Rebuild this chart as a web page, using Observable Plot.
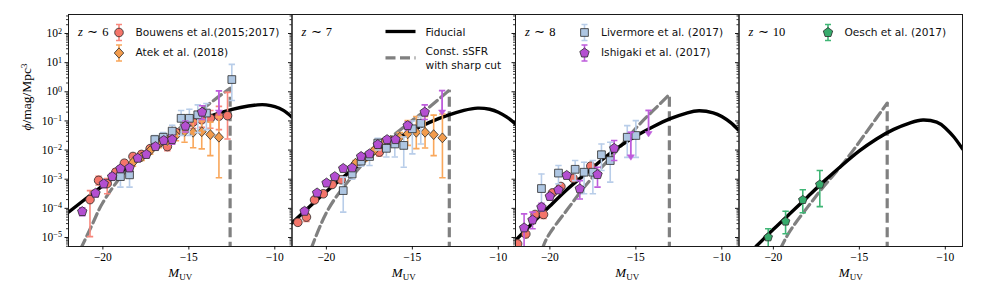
<!DOCTYPE html>
<html><head><meta charset="utf-8">
<script src="https://cdn.jsdelivr.net/npm/d3@7"></script>
<script src="https://cdn.jsdelivr.net/npm/@observablehq/plot@0.6"></script>
<style>
body{margin:0;background:#fff;}
#chart{width:981px;height:282px;}
</style></head><body><div id="chart"></div>
<script>
// ---------- data (log10 phi values) ----------
const panels = [6, 7, 8, 10];
const panelLabels = ["z ∼ 6", "z ∼ 7", "z ∼ 8", "z ∼ 10"];
const xTicks = [-20, -15, -10];
const yExponents = [-5, -4, -3, -2, -1, 0, 1, 2];

// [M_UV, log phi, log lower, log upper]
const bouwensZ6 = [
  [-20.75,-3.70,-4.97,-3.39],[-20.25,-3.04,-3.20,-2.90],[-19.75,-3.15,-3.50,-2.98],
  [-19.25,-2.76,-2.90,-2.64],[-18.75,-2.45,-2.57,-2.35],[-18.25,-2.22,-2.33,-2.12],
  [-17.75,-2.15,-2.28,-2.04],[-17.25,-1.95,-2.06,-1.85],[-16.75,-1.77,-1.90,-1.66],
  [-16.25,-1.88,-2.02,-1.76],[-15.75,-1.40,-1.55,-1.28],[-15.25,-1.13,-1.30,-0.98],
  [-14.75,-1.04,-1.25,-0.87],[-14.25,-0.96,-1.22,-0.75],[-13.75,-0.91,-1.25,-0.64],
  [-13.25,-0.84,-1.30,-0.50],[-12.75,-0.82,-1.62,-0.02]
];
const bouwensZ7 = [
  [-21.66,-4.48,-4.58,-4.38],[-21.16,-4.30,-4.45,-4.18],[-20.69,-3.71,-3.80,-3.62],
  [-20.18,-3.50,-3.58,-3.42],[-19.66,-3.18,-3.25,-3.11],[-19.14,-3.02,-3.10,-2.95],
  [-17.92,-2.27,-2.35,-2.20],[-16.92,-2.07,-2.20,-1.95]
];
const bouwensZ8 = [
  [-21.88,-5.22,-5.35,-5.10],[-21.40,-4.88,-5.00,-4.78],[-20.86,-4.21,-4.30,-4.12],
  [-20.37,-4.21,-4.35,-4.10],[-19.85,-3.47,-3.55,-3.40],[-19.36,-3.25,-3.33,-3.18],
  [-18.65,-2.97,-3.05,-2.90],[-17.62,-2.55,-2.65,-2.46]
];
const atekZ6 = [
  [-18.25,-2.42,-2.55,-2.30],[-17.75,-2.24,-2.36,-2.13],[-17.25,-2.02,-2.14,-1.91],
  [-16.75,-1.79,-1.92,-1.68],[-16.25,-1.67,-1.82,-1.55],[-15.75,-1.50,-1.68,-1.36],
  [-15.25,-1.36,-1.73,-1.10],[-14.75,-1.39,-1.92,-1.00],[-14.25,-1.37,-1.96,-1.00],
  [-13.75,-1.47,-2.19,-1.04],[-13.25,-1.56,-2.95,-0.87]
];
const atekZ7 = [
  [-18.31,-2.45,-2.55,-2.36],[-17.79,-2.27,-2.37,-2.18],[-17.24,-2.02,-2.12,-1.93],
  [-16.76,-1.76,-1.86,-1.67],[-16.27,-1.67,-1.80,-1.55],[-15.73,-1.56,-1.75,-1.40],
  [-15.27,-1.44,-1.84,-0.99],[-14.77,-1.39,-1.95,-0.85],[-14.26,-1.39,-1.93,-0.85],
  [-13.76,-1.47,-2.19,-0.80],[-13.25,-1.58,-2.95,-0.76]
];
const livermoreZ6 = [
  [-18.98,-2.91,-3.27,-2.61],[-18.45,-2.85,-3.27,-2.72],[-16.98,-1.64,-1.85,-1.50],
  [-16.49,-1.56,-1.75,-1.40],[-15.97,-1.35,-1.62,-1.15],[-15.45,-0.91,-1.50,-0.64],
  [-14.97,-0.91,-1.50,-0.60],[-14.48,-0.79,-1.40,-0.45],[-13.98,-0.73,-1.30,-0.40],
  [-12.50,0.42,-0.30,0.94]
];
const livermoreZ7 = [
  [-19.02,-3.39,-4.13,-2.93],[-18.50,-2.82,-3.00,-2.65],[-17.98,-2.38,-2.55,-2.25],
  [-17.49,-2.22,-2.53,-2.05],[-17.01,-1.76,-2.00,-1.60],[-16.51,-1.94,-2.24,-1.75],
  [-16.02,-1.79,-2.24,-1.60],[-15.50,-1.84,-2.59,-1.55],[-15.00,-1.27,-2.13,-1.00],
  [-14.51,-1.08,-1.79,-0.85]
];
const livermoreZ8 = [
  [-20.49,-3.32,-3.85,-2.82],[-19.50,-2.79,-3.16,-2.53],[-18.53,-2.66,-3.05,-2.36],
  [-18.01,-2.76,-3.50,-2.42],[-17.50,-2.76,-3.50,-2.36],[-17.00,-2.16,-2.70,-1.79],
  [-16.49,-2.36,-3.10,-1.73],[-15.50,-1.56,-2.25,-1.16],[-15.00,-1.50,-2.25,-0.99]
];
const ishigakiZ6 = [
  [-21.20,-4.11,-4.25,-3.98],[-20.43,-3.48,-3.60,-3.38],[-19.95,-3.16,-3.28,-3.05],
  [-19.46,-2.91,-3.02,-2.80],[-18.98,-2.64,-2.75,-2.54],[-18.45,-2.61,-2.73,-2.50],
  [-17.97,-2.28,-2.38,-2.18],[-17.47,-2.15,-2.25,-2.05],[-16.94,-1.88,-1.98,-1.78],
  [-16.46,-1.67,-1.80,-1.56],[-15.97,-1.64,-1.80,-1.50],[-15.20,-1.18,-1.38,-1.00],
  [-14.23,-0.70,-0.95,-0.48]
];
const ishigakiZ7 = [
  [-21.27,-4.10,-4.20,-4.00],[-20.54,-3.47,-3.55,-3.40],[-19.99,-3.13,-3.20,-3.06],
  [-19.51,-2.91,-2.98,-2.84],[-19.02,-2.63,-2.70,-2.56],[-18.50,-2.61,-2.69,-2.54],
  [-17.98,-2.22,-2.29,-2.15],[-17.49,-2.13,-2.20,-2.06],[-17.01,-1.81,-1.88,-1.74],
  [-16.47,-1.64,-1.72,-1.56],[-15.98,-1.64,-1.74,-1.55],[-15.27,-1.16,-1.30,-1.03],
  [-14.28,-0.70,-0.95,-0.45]
];
const ishigakiZ8 = [
  [-21.50,-4.67,-5.50,-4.19],[-21.01,-4.40,-4.70,-4.13],[-20.49,-3.96,-4.10,-3.83],
  [-20.00,-3.59,-3.70,-3.49],[-19.50,-3.37,-3.46,-3.28],[-19.02,-2.87,-2.95,-2.79],
  [-18.26,-3.33,-3.68,-3.05],[-17.23,-2.84,-3.27,-2.59],[-16.26,-1.94,-2.36,-1.67]
];
// upper limits: [z, M_UV, log top, log arrow tip]
const ishigakiLimits = [
  [6,-13.25,0.03,-0.76],[7,-13.27,0.04,-0.76],[8,-15.29,-1.39,-2.30],[8,-14.26,-0.64,-1.50]
];
const oeschZ10 = [
  [-20.30,-4.99,-5.50,-4.70],[-19.29,-4.45,-4.87,-4.10],
  [-18.29,-3.71,-4.15,-3.36],[-17.30,-3.18,-3.94,-2.70]
];

// model curves: [M_UV, log phi]
const fiducialZ6 = [[-22,-4.13],[-21,-3.67],[-20,-3.22],[-19,-2.77],[-18,-2.33],[-17,-1.91],[-16,-1.52],[-15,-1.16],[-14,-0.89],[-13,-0.69],[-12,-0.54],[-11,-0.45],[-10.5,-0.45],[-10,-0.51],[-9.5,-0.64],[-9,-0.87]];
const fiducialZ7 = [[-22,-4.50],[-21,-3.95],[-20,-3.42],[-19,-2.92],[-18,-2.45],[-17,-2.02],[-16,-1.65],[-15,-1.33],[-14,-1.05],[-13,-0.82],[-12,-0.64],[-11.2,-0.56],[-10.5,-0.60],[-10,-0.70],[-9.5,-0.87],[-9,-1.10]];
const fiducialZ8 = [[-22,-5.10],[-21,-4.50],[-20,-3.92],[-19,-3.35],[-18,-2.85],[-17,-2.35],[-16,-1.90],[-15,-1.52],[-14,-1.20],[-13,-0.92],[-12,-0.72],[-11.3,-0.65],[-10.5,-0.72],[-10,-0.85],[-9.5,-1.05],[-9,-1.33]];
const fiducialZ10 = [[-21,-5.30],[-20,-4.72],[-19,-4.16],[-18,-3.60],[-17,-3.04],[-16,-2.52],[-15,-2.03],[-14,-1.62],[-13,-1.29],[-12,-1.06],[-11.3,-0.97],[-10.5,-1.04],[-10,-1.24],[-9.5,-1.55],[-9,-1.96]];
const ssfrZ6 = [[-21.3,-5.40],[-20.5,-4.40],[-20,-3.80],[-19,-2.95],[-18,-2.35],[-17,-1.87],[-16,-1.45],[-15,-1.00],[-14,-0.50],[-13,-0.05],[-12.6,0.12]];
const ssfrZ7 = [[-20.9,-5.40],[-20,-4.15],[-19,-3.27],[-18,-2.55],[-17,-1.95],[-16,-1.45],[-15,-0.98],[-14,-0.52],[-13,-0.02],[-12.85,0.05]];
const ssfrZ8 = [[-20.45,-5.40],[-20,-4.85],[-19,-4.05],[-18,-3.27],[-17,-2.60],[-16,-1.95],[-15,-1.25],[-14,-0.65],[-13.05,-0.09]];
const ssfrZ10 = [[-19.6,-5.40],[-19,-4.75],[-18,-3.95],[-17,-3.20],[-16,-2.50],[-15,-1.72],[-14,-0.90],[-13.38,-0.39]];
// sharp cut: [z, M_cut, log top]
const ssfrCut = [[6,-12.6,0.12],[7,-12.85,0.05],[8,-13.05,-0.09],[10,-13.38,-0.39]];

// ---------- build tables ----------
const pts = (z, arr) => arr.map(([M, v, lo, hi]) => ({z, M, phi: 10 ** v, lo: 10 ** lo, hi: 10 ** hi}));
const crv = (z, arr) => arr.map(([M, v]) => ({z, M, phi: 10 ** v}));
const bouwens = [...pts(6, bouwensZ6), ...pts(7, bouwensZ7), ...pts(8, bouwensZ8)];
const atek = [...pts(6, atekZ6), ...pts(7, atekZ7)];
const livermore = [...pts(6, livermoreZ6), ...pts(7, livermoreZ7), ...pts(8, livermoreZ8)];
const ishigaki = [...pts(6, ishigakiZ6), ...pts(7, ishigakiZ7), ...pts(8, ishigakiZ8)];
const oesch = pts(10, oeschZ10);
const limits = ishigakiLimits.map(([z, M, t, b]) => ({z, M, top: 10 ** t, tip: 10 ** b}));
const fiducial = [...crv(6, fiducialZ6), ...crv(7, fiducialZ7), ...crv(8, fiducialZ8), ...crv(10, fiducialZ10)];
const ssfr = [...crv(6, ssfrZ6), ...crv(7, ssfrZ7), ...crv(8, ssfrZ8), ...crv(10, ssfrZ10)];
const cuts = ssfrCut.map(([z, M, t]) => ({z, M, top: 10 ** t}));
const panelInfo = panels.map((z, i) => ({z, label: panelLabels[i]}));

const yDomain = [10 ** -5.309, 10 ** 2.652];
const majorY = yExponents.map(e => 10 ** e);
const minorY = [];
for (let e = -6; e <= 2; e++) for (let k = 2; k <= 9; k++) {
  const v = k * 10 ** e;
  if (v >= yDomain[0] && v <= yDomain[1]) minorY.push(v);
}

// ---------- symbols ----------
const sym = fn => ({draw(ctx, size) { fn(ctx, Math.sqrt(size / Math.PI)); }});
const circle = sym((c, r) => { c.moveTo(r, 0); c.arc(0, 0, r, 0, 2 * Math.PI); });
const square = sym((c, r) => { const s = r * 0.9; c.moveTo(-s, -s); c.lineTo(s, -s); c.lineTo(s, s); c.lineTo(-s, s); c.closePath(); });
const diamond = sym((c, r) => { const R = r * 1.2; c.moveTo(0, -R); c.lineTo(R * 0.92, 0); c.lineTo(0, R); c.lineTo(-R * 0.92, 0); c.closePath(); });
const pentagon = sym((c, r) => { const R = r * 1.15; for (let i = 0; i < 5; i++) { const a = -Math.PI / 2 + i * 2 * Math.PI / 5; i ? c.lineTo(R * Math.cos(a), R * Math.sin(a)) : c.moveTo(R * Math.cos(a), R * Math.sin(a)); } c.closePath(); });
const cap = sym((c, r) => { c.moveTo(-r, 0); c.lineTo(r, 0); });
const caret = sym((c, r) => { c.moveTo(-r, -r * 1.1); c.lineTo(r, -r * 1.1); c.lineTo(0, r * 0.4); c.closePath(); });
const vbar = sym((c, r) => { c.moveTo(0, -r); c.lineTo(0, r); c.moveTo(-3, -r); c.lineTo(3, -r); c.moveTo(-3, r); c.lineTo(3, r); });
const hline = sym((c, r) => { c.moveTo(-15, 0); c.lineTo(15, 0); });

const styles = {
  bouwens: {fill: "#f4756a", err: "#f8877c", symbol: circle},
  atek: {fill: "#f39c4d", err: "#f9a75b", symbol: diamond},
  livermore: {fill: "#aec6e2", err: "#b8cde9", symbol: square},
  ishigaki: {fill: "#b44fd1", err: "#be5cdc", symbol: pentagon},
  oesch: {fill: "#37ab6c", err: "#40b676", symbol: pentagon}
};

function series(data, st, r = 4.3) {
  return [
    Plot.ruleX(data, {fx: "z", x: "M", y1: "lo", y2: "hi", stroke: st.err, strokeWidth: 1.6, clip: true}),
    Plot.dot(data, {fx: "z", x: "M", y: "lo", symbol: cap, r: 3.2, stroke: st.err, strokeWidth: 1.6, fill: "none", clip: true}),
    Plot.dot(data, {fx: "z", x: "M", y: "hi", symbol: cap, r: 3.2, stroke: st.err, strokeWidth: 1.6, fill: "none", clip: true}),
    Plot.dot(data, {fx: "z", x: "M", y: "phi", symbol: st.symbol, r, fill: st.fill, stroke: "#2b2b2b", strokeWidth: 0.8, clip: true})
  ];
}

const legendItems = [
  {z: 6, dx: 50.5, dy: 18, key: "bouwens", label: "Bouwens et al.(2015;2017)"},
  {z: 6, dx: 50.5, dy: 38.5, key: "atek", label: "Atek et al. (2018)"},
  {z: 8, dx: 69, dy: 18, key: "livermore", label: "Livermore et al. (2017)"},
  {z: 8, dx: 69, dy: 38.5, key: "ishigaki", label: "Ishigaki et al. (2017)"},
  {z: 10, dx: 89, dy: 18, key: "oesch", label: "Oesch et al. (2017)"}
];
const lineLegend = [
  {z: 7, dy: 17, label: "Fiducial", stroke: "black", dash: null, ty: 17},
  {z: 7, dy: 43.3, label: "Const. sSFR\nwith sharp cut", stroke: "#808080", dash: "10,4.5", ty: 43}
];
const legendFont = "DejaVu Sans";

const legendMarks = legendItems.flatMap(it => {
  const st = styles[it.key];
  return [
    Plot.dot([it], {fx: "z", frameAnchor: "top-left", dx: it.dx, dy: it.dy, symbol: vbar, r: 8, stroke: st.err, strokeWidth: 1.6, fill: "none"}),
    Plot.dot([it], {fx: "z", frameAnchor: "top-left", dx: it.dx, dy: it.dy, symbol: st.symbol, r: 4.3, fill: st.fill, stroke: "#2b2b2b", strokeWidth: 0.8}),
    Plot.text([it], {fx: "z", frameAnchor: "top-left", dx: it.dx + 16.5, dy: it.dy, text: "label", textAnchor: "start", lineAnchor: "middle", fontFamily: legendFont, fontSize: 10.6, fill: "#111"})
  ];
}).concat(lineLegend.flatMap(it => [
  Plot.dot([it], {fx: "z", frameAnchor: "top-left", dx: 108.5, dy: it.dy, symbol: hline, r: 5, stroke: it.stroke, strokeWidth: 3.3, strokeDasharray: it.dash, fill: "none"}),
  Plot.text([it], {fx: "z", frameAnchor: "top-left", dx: 133.5, dy: it.ty, text: "label", textAnchor: "start", lineAnchor: "middle", lineHeight: 1.27, fontFamily: legendFont, fontSize: 10.6, fill: "#111"})
]));

const chart = Plot.plot({
  width: 981, height: 282,
  marginLeft: 68, marginRight: 19, marginTop: 14, marginBottom: 36,
  style: {fontFamily: "Liberation Serif", fontSize: "11.5px", background: "white", color: "black", overflow: "visible"},
  fx: {domain: panels, padding: 0, round: false, axis: null},
  x: {domain: [-22, -9]},
  y: {type: "log", domain: yDomain},
  marks: [
    Plot.line(ssfr, {fx: "z", x: "M", y: "phi", stroke: "#808080", strokeWidth: 3.2, strokeDasharray: "10,4.5", curve: "natural", clip: true}),
    Plot.ruleX(cuts, {fx: "z", x: "M", y1: 1e-7, y2: "top", stroke: "#808080", strokeWidth: 3.2, strokeDasharray: "10,4.5", clip: true}),
    Plot.line(fiducial, {fx: "z", x: "M", y: "phi", stroke: "black", strokeWidth: 3.4, curve: "natural", clip: true}),
    ...series(bouwens, styles.bouwens),
    ...series(atek, styles.atek, 4.1),
    ...series(livermore, styles.livermore),
    // upper limits
    Plot.ruleX(limits, {fx: "z", x: "M", y1: "tip", y2: "top", stroke: styles.ishigaki.err, strokeWidth: 1.8}),
    Plot.dot(limits, {fx: "z", x: "M", y: "top", symbol: cap, r: 3.2, stroke: styles.ishigaki.err, strokeWidth: 1.8, fill: "none"}),
    Plot.dot(limits, {fx: "z", x: "M", y: "tip", symbol: caret, r: 3.6, fill: styles.ishigaki.err, stroke: styles.ishigaki.err, strokeWidth: 0.5}),
    ...series(ishigaki, styles.ishigaki),
    ...series(oesch, styles.oesch, 3.9),
    Plot.frame({stroke: "#1a1a1a", strokeWidth: 1}),
    Plot.axisY({ticks: minorY, tickSize: 2, tickFormat: () => "", label: null, facetAnchor: null, strokeWidth: 0.8}),
    Plot.axisY({ticks: majorY, tickSize: 3.5, tickFormat: () => "", label: null, facetAnchor: null, strokeWidth: 0.9}),
    Plot.axisY({ticks: majorY, tickSize: 0, tickPadding: 6.5, tickFormat: d => "10^" + Math.round(Math.log10(d)), label: null, facetAnchor: "left"}),
    Plot.axisX({ticks: xTicks, tickSize: 3.5, tickPadding: 3, tickFormat: d => "\u2212" + Math.abs(d), label: null, strokeWidth: 0.9}),
    Plot.text(panelInfo, {fx: "z", frameAnchor: "top-left", dx: 9.5, dy: 17.5, text: "label", textAnchor: "start", lineAnchor: "middle", fontSize: 12.5, ariaLabel: "zlabel"}),
    Plot.text(panelInfo, {fx: "z", frameAnchor: "bottom", dy: 26.5, text: () => "MUV", lineAnchor: "middle", fontSize: 13, ariaLabel: "xlabel"}),
    Plot.text(panelInfo.slice(0, 1), {fx: "z", frameAnchor: "left", dx: -42, rotate: -90, text: () => "phiLabel", lineAnchor: "middle", fontSize: 13.5, ariaLabel: "ylabel"}),
    ...legendMarks
  ]
});
document.getElementById("chart").appendChild(chart);

// ---------- typographic post-processing (math-style labels) ----------
const NS = "http://www.w3.org/2000/svg";
function tspan(parent, txt, attrs = {}) {
  const t = document.createElementNS(NS, "tspan");
  t.textContent = txt;
  for (const k in attrs) t.setAttribute(k, attrs[k]);
  parent.appendChild(t);
  return t;
}
chart.querySelectorAll("text").forEach(t => {
  const s = t.textContent;
  let m;
  if ((m = s.match(/^10\^(-?\d+)$/))) {
    const e = +m[1];
    t.textContent = "";
    tspan(t, "10");
    tspan(t, e < 0 ? "\u2212" + (-e) : String(e), {dy: "-0.45em", "font-size": "8.2px"});
  } else if ((m = s.match(/^z ∼ (\d+)$/))) {
    t.textContent = "";
    tspan(t, "z", {"font-style": "italic"});
    tspan(t, "\u2004∼\u2004" + m[1]);
  } else if (s === "MUV") {
    t.textContent = "";
    tspan(t, "M", {"font-style": "italic"});
    tspan(t, "UV", {dy: "0.3em", "font-size": "9px"});
  } else if (s === "phiLabel") {
    t.textContent = "";
    tspan(t, "ϕ", {"font-style": "italic"});
    tspan(t, "/mag/Mpc");
    tspan(t, "3", {dy: "-0.45em", "font-size": "9px"});
  }
});
</script></body></html>
